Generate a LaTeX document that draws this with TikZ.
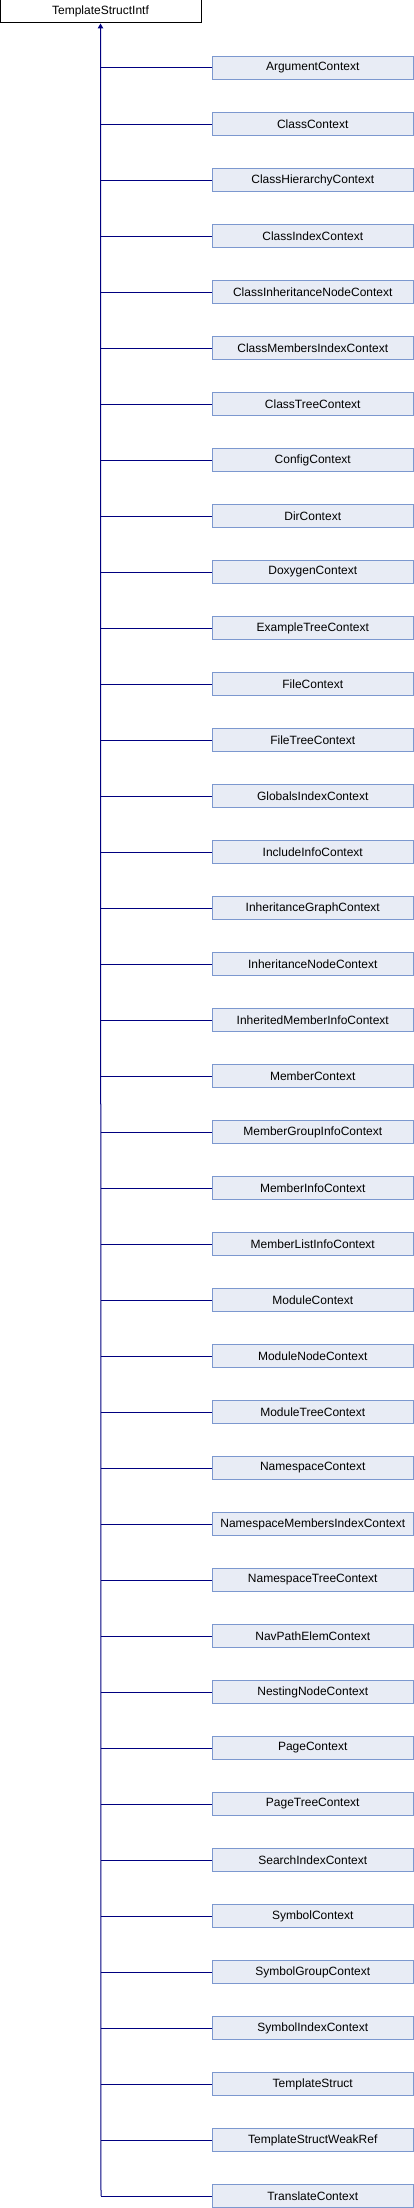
\documentclass[tikz,border=0pt]{standalone}
\usepackage{fontspec}
\setmainfont{Liberation Sans}
\usetikzlibrary{arrows.meta}
\definecolor{edgeblue}{RGB}{0,0,128}
\definecolor{boxfill}{RGB}{232,236,245}
\definecolor{boxline}{RGB}{124,152,207}
\begin{document}
\begin{tikzpicture}[x=1pt,y=-1pt,
  base/.style={draw=black,fill=white,line width=1pt,minimum width=201pt,minimum height=23pt,inner sep=0pt},
  derived/.style={draw=boxline,fill=boxfill,line width=1pt,minimum width=200.5pt,minimum height=22.5pt,inner sep=0pt},
  edge/.style={draw=edgeblue,line width=1pt}]
\fontsize{12}{14}\selectfont
\useasboundingbox (0,0) rectangle (414,2208);
\def\xbar{101} % trunk
\def\xbox{312.75}
\def\ytop{68}
\def\dy{56}
\node[base] (root) at (100.5,11.5) {TemplateStructIntf};
\foreach \name [count=\i from 0] in {ArgumentContext,ClassContext,ClassHierarchyContext,ClassIndexContext,
  ClassInheritanceNodeContext,ClassMembersIndexContext,ClassTreeContext,ConfigContext,DirContext,
  DoxygenContext,ExampleTreeContext,FileContext,FileTreeContext,GlobalsIndexContext,IncludeInfoContext,
  InheritanceGraphContext,InheritanceNodeContext,InheritedMemberInfoContext,MemberContext,
  MemberGroupInfoContext,MemberInfoContext,MemberListInfoContext,ModuleContext,ModuleNodeContext,
  ModuleTreeContext,NamespaceContext,NamespaceMembersIndexContext,NamespaceTreeContext,
  NavPathElemContext,NestingNodeContext,PageContext,PageTreeContext,SearchIndexContext,SymbolContext,
  SymbolGroupContext,SymbolIndexContext,TemplateStruct,TemplateStructWeakRef,TranslateContext}
{
  \pgfmathsetmacro{\y}{\ytop+\dy*\i}
  \node[derived] (c\i) at (\xbox,\y) {\name};
  \coordinate (j\i) at (\xbar,\y);
  \draw[edge] (c\i.west) -- (j\i);
}
\draw[edge,-{Triangle[length=5pt,width=5.5pt]}] (j38) -- (root.south);
\end{tikzpicture}
\end{document}
